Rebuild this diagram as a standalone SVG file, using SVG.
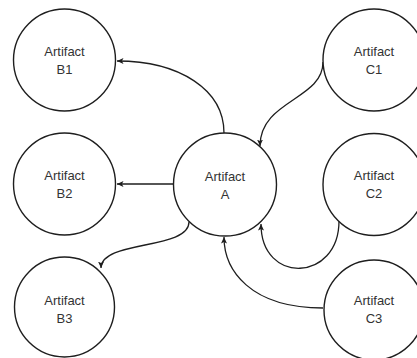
<svg xmlns="http://www.w3.org/2000/svg" width="417" height="358" viewBox="0 0 417 358">
  <style>
    .node circle { fill: #ffffff; stroke: #1e1e1e; stroke-width: 1.4; }
    .node text { font-family: "Liberation Sans", Arial, sans-serif; font-size: 13px; fill: #333333; text-anchor: middle; }
    .edge { fill: none; stroke: #1e1e1e; stroke-width: 1.3; marker-end: url(#arrow); }
  </style>
  <defs>
    <!-- small classic arrowhead -->
    <marker id="arrow" markerUnits="userSpaceOnUse" markerWidth="8" markerHeight="7" refX="6.5" refY="3" orient="auto">
      <path d="M0,0 L6.5,3 L0,6 L1.6,3 z" fill="#1e1e1e"/>
    </marker>
  </defs>
  <rect width="417" height="358" fill="#ffffff"/>

  <!-- connectors -->
  <g id="connectors">
    <path class="edge" d="M224,133 C224,90 180,61 117,61"/>
    <path class="edge" d="M173,184 L117,184"/>
    <path class="edge" d="M189,222 C189,250 101,240 101,268"/>
    <path class="edge" d="M323,62 C323,100 260,100 260,146"/>
    <path class="edge" d="M339,221 C339,282 261,285 261,224"/>
    <path class="edge" d="M323,308 C250,308 224,270 224,237"/>
  </g>

  <!-- nodes -->
  <g id="artifact-b1" class="node">
    <circle cx="64.5" cy="60" r="51"/>
    <text x="64.5" y="56">Artifact</text>
    <text x="64.5" y="74">B1</text>
  </g>
  <g id="artifact-b2" class="node">
    <circle cx="64.5" cy="184" r="51"/>
    <text x="64.5" y="180">Artifact</text>
    <text x="64.5" y="198">B2</text>
  </g>
  <g id="artifact-b3" class="node">
    <circle cx="64.5" cy="307" r="50"/>
    <text x="64.5" y="305">Artifact</text>
    <text x="64.5" y="323">B3</text>
  </g>
  <g id="artifact-a" class="node">
    <circle cx="225" cy="184.5" r="51.5"/>
    <text x="225" y="181">Artifact</text>
    <text x="225" y="199">A</text>
  </g>
  <g id="artifact-c1" class="node">
    <circle cx="374" cy="60" r="51"/>
    <text x="374" y="56">Artifact</text>
    <text x="374" y="74">C1</text>
  </g>
  <g id="artifact-c2" class="node">
    <circle cx="374" cy="184.5" r="51"/>
    <text x="374" y="180">Artifact</text>
    <text x="374" y="198">C2</text>
  </g>
  <g id="artifact-c3" class="node">
    <circle cx="374" cy="310" r="50"/>
    <text x="374" y="305">Artifact</text>
    <text x="374" y="323">C3</text>
  </g>
</svg>
